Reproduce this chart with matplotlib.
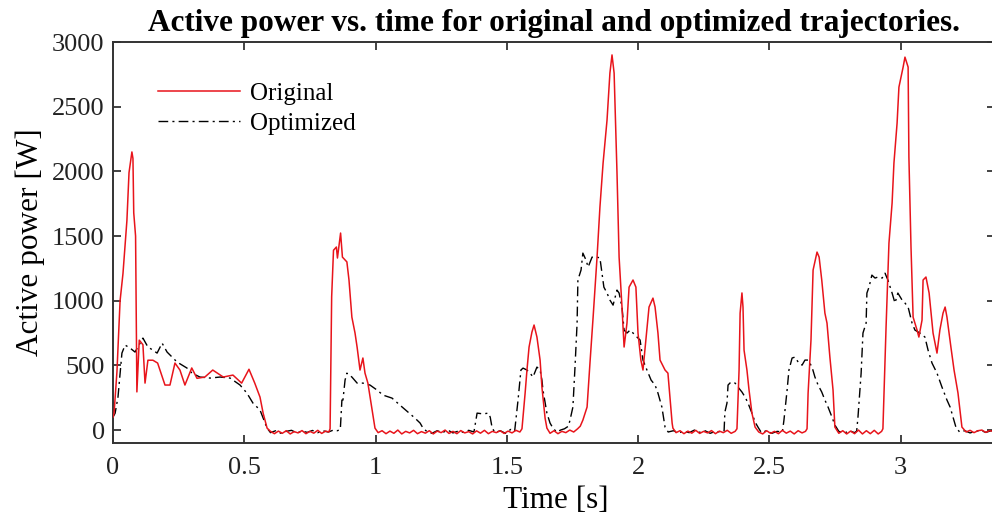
import numpy as np
import matplotlib
matplotlib.use("Agg")
import matplotlib.pyplot as plt

# ---------------- data ----------------
# Original trajectory: peaks
orig_peak_t = [0.000, 0.004, 0.015, 0.027, 0.038, 0.053, 0.061, 0.072, 0.076, 0.079, 0.086, 0.091, 0.100, 0.114,
               0.122, 0.133, 0.152, 0.170, 0.198, 0.217, 0.236, 0.255, 0.274, 0.300, 0.320, 0.350, 0.380,
               0.420, 0.457, 0.490, 0.518, 0.540, 0.560, 0.572, 0.587,
               0.827, 0.833, 0.840, 0.851, 0.855, 0.867, 0.874, 0.891, 0.899, 0.910, 0.922, 0.930, 0.941,
               0.952, 0.960, 0.971, 0.987, 0.998,
               1.558, 1.570, 1.577, 1.585, 1.596, 1.604, 1.615, 1.627, 1.634, 1.646, 1.653,
               1.790, 1.806, 1.817, 1.829, 1.844, 1.855, 1.867, 1.882, 1.893, 1.901, 1.909, 1.920, 1.928,
               1.939, 1.947, 1.958, 1.966, 1.981, 1.992, 2.000, 2.011, 2.019, 2.030, 2.042, 2.057, 2.065,
               2.076, 2.084, 2.103, 2.114, 2.130, 2.133,
               2.377, 2.385, 2.389, 2.396, 2.400, 2.404, 2.415, 2.423, 2.434, 2.446,
               2.644, 2.648, 2.659, 2.667, 2.682, 2.690, 2.700, 2.712, 2.720, 2.731, 2.743, 2.750,
               2.933, 2.945, 2.956, 2.968, 2.975, 2.987, 2.994, 3.010, 3.017, 3.029, 3.032, 3.040, 3.048,
               3.063, 3.070, 3.082, 3.086, 3.097, 3.109, 3.124, 3.139, 3.150, 3.162, 3.170, 3.177, 3.192,
               3.204, 3.219, 3.234]
orig_peak_p = [100, 130, 450, 1000, 1210, 1620, 1990, 2150, 2100, 1680, 1500, 295, 695, 660,
               363, 540, 540, 518, 348, 348, 518, 464, 348, 480, 400, 410, 464,
               410, 425, 363, 470, 363, 255, 130, 15,
               10, 1030, 1390, 1415, 1330, 1523, 1337, 1300, 1160, 873, 750, 640, 464,
               557, 440, 363, 155, 15,
               10, 286, 464, 642, 758, 812, 719, 541, 332, 93, 15,
               77, 178, 518, 873, 1337, 1724, 2064, 2396, 2760, 2900, 2760, 1987, 1337,
               951, 642, 827, 1105, 1160, 1105, 750, 541, 464, 696, 951, 1020, 951,
               750, 541, 464, 440, 54, 15,
               10, 464, 904, 1060, 951, 618, 464, 309, 131, 23,
               10, 286, 696, 1237, 1376, 1337, 1160, 904, 827, 564, 309, 23,
               10, 796, 1445, 1755, 2064, 2373, 2651, 2806, 2883, 2806, 2110, 1415, 873,
               773, 719, 850, 1160, 1183, 1059, 750, 595, 773, 904, 951, 873, 642,
               464, 286, 23]
# Original trajectory: idle (near zero) samples
orig_idle_t = [0.600, 0.615, 0.630, 0.645, 0.660, 0.675, 0.690, 0.705, 0.720, 0.735, 0.750, 0.765, 0.780, 0.795, 0.810, 0.822,
               1.010, 1.025, 1.040, 1.055, 1.070, 1.085, 1.100, 1.115, 1.130, 1.145, 1.160, 1.175, 1.190, 1.205,
               1.220, 1.235, 1.250, 1.265, 1.280, 1.295, 1.310, 1.325, 1.340, 1.355, 1.370, 1.385, 1.400, 1.415,
               1.430, 1.445, 1.460, 1.475, 1.490, 1.505, 1.520, 1.535, 1.550,
               1.665, 1.680, 1.695, 1.710, 1.725, 1.740, 1.755, 1.770, 1.780,
               2.145, 2.160, 2.175, 2.190, 2.205, 2.220, 2.235, 2.250, 2.265, 2.280, 2.295, 2.310, 2.325, 2.340, 2.355, 2.370,
               2.460, 2.475, 2.490, 2.505, 2.520, 2.535, 2.550, 2.565, 2.580, 2.595, 2.610, 2.625, 2.638,
               2.765, 2.780, 2.795, 2.810, 2.825, 2.840, 2.855, 2.870, 2.885, 2.900, 2.915, 2.928,
               3.250, 3.265, 3.280, 3.295, 3.310, 3.325, 3.340, 3.355]
orig_idle_p = [-10, -28, -8, -25, -5, -30, -12, -22, -4, -28, -10, -24, -2, -26, -8, -15,
               -20, -5, -28, -8, -25, 0, -30, -10, -22, -2, -28, -12, -24, -5,
               -30, -8, -20, 0, -26, -10, -28, -4, -22, -12, -30, -6, -24, -2,
               -28, -10, -20, -5, -26, -8, -22, -2, -15,
               -25, -5, -28, -10, -20, 0, -15, 10, 30,
               -20, -5, -28, -8, -24, -2, -26, -10, -22, -4, -28, -8, -20, -2, -25, -10,
               -15, -30, -5, -25, -10, -28, -2, -24, -8, -30, -5, -22, -10,
               -25, -5, -30, -8, -28, 0, -30, -5, -28, -2, -30, -10,
               -15, -2, -20, -5, 0, -18, -4, -12]

# Optimized trajectory: active phases
opt_peak_t = [0.000, 0.008, 0.019, 0.034, 0.046, 0.065, 0.084, 0.095, 0.114, 0.133, 0.152, 0.168, 0.187,
              0.206, 0.225, 0.244, 0.263, 0.282, 0.301, 0.331, 0.370, 0.408, 0.446, 0.484, 0.510, 0.533,
              0.560, 0.575, 0.587,
              0.872, 0.876, 0.884, 0.891, 0.910, 0.930, 0.952, 0.979, 1.006, 1.029, 1.063, 1.093, 1.124,
              1.150, 1.170, 1.181,
              1.387, 1.410, 1.430, 1.437, 1.444,
              1.543, 1.554, 1.562, 1.577, 1.589, 1.600, 1.615, 1.627, 1.634, 1.638, 1.653, 1.665, 1.676,
              1.741, 1.752, 1.760, 1.768, 1.771, 1.783, 1.790, 1.802, 1.810, 1.825, 1.844, 1.855, 1.863,
              1.870, 1.882, 1.893, 1.905, 1.920, 1.928, 1.939, 1.947, 1.958, 1.970, 1.981, 1.996, 2.008,
              2.019, 2.034, 2.050, 2.065, 2.076, 2.091, 2.103,
              2.331, 2.339, 2.343, 2.354, 2.370, 2.381, 2.396, 2.408, 2.419, 2.434, 2.446, 2.457,
              2.556, 2.568, 2.575, 2.587, 2.598, 2.610, 2.625, 2.636, 2.648, 2.663, 2.674, 2.686, 2.700,
              2.712, 2.724, 2.739, 2.750,
              2.838, 2.850, 2.857, 2.869, 2.872, 2.880, 2.891, 2.903, 2.914, 2.930, 2.941, 2.952, 2.968,
              2.979, 2.990, 3.006, 3.017, 3.029, 3.044, 3.055, 3.074, 3.093, 3.105, 3.120, 3.139, 3.158,
              3.177, 3.189, 3.200, 3.211]
opt_peak_p = [100, 130, 255, 595, 657, 634, 603, 642, 711, 642, 618, 595, 672,
              603, 564, 526, 502, 479, 440, 410, 402, 410, 402, 348, 286, 209,
              155, 77, 15,
              232, 232, 386, 440, 410, 363, 363, 348, 309, 270, 247, 193, 139,
              93, 54, 15,
              131, 125, 131, 100, 20,
              232, 464, 479, 464, 440, 410, 487, 464, 386, 309, 131, 54, 15,
              77, 178, 487, 827, 1160, 1237, 1368, 1314, 1260, 1337, 1337, 1330, 1213,
              1105, 1059, 1005, 966, 1082, 1059, 951, 773, 750, 773, 750, 719, 696,
              541, 464, 386, 348, 286, 178, 23,
              139, 209, 348, 371, 363, 332, 294, 255, 209, 131, 62, 23,
              77, 309, 464, 557, 564, 526, 502, 541, 541, 487, 410, 348, 294,
              232, 178, 100, 39,
              100, 440, 750, 827, 1059, 1105, 1198, 1175, 1183, 1175, 1213, 1160, 1059,
              982, 1059, 1005, 982, 951, 827, 773, 750, 719, 618, 518, 440, 332,
              232, 178, 100, 23]
# Optimized trajectory: idle samples
opt_idle_t = [0.600, 0.620, 0.640, 0.660, 0.680, 0.700, 0.720, 0.740, 0.760, 0.780, 0.800, 0.820, 0.840, 0.855, 0.866,
              1.195, 1.215, 1.235, 1.255, 1.275, 1.295, 1.315, 1.335, 1.355, 1.375,
              1.455, 1.475, 1.495, 1.515, 1.530,
              1.690, 1.705, 1.720, 1.735,
              2.115, 2.135, 2.155, 2.175, 2.195, 2.215, 2.235, 2.255, 2.275, 2.295, 2.315, 2.328,
              2.470, 2.490, 2.510, 2.530, 2.550,
              2.765, 2.785, 2.805, 2.825, 2.833,
              3.225, 3.245, 3.265, 3.285, 3.305, 3.325, 3.345, 3.360]
opt_idle_p = [-20, -5, -25, -10, -2, -22, -8, -18, -3, -20, -6, -15, 0, -5, 5,
              -10, -25, -5, -20, 0, -22, -8, -18, -2, -15,
              -20, -5, -25, 5, -10,
              -15, 0, 10, 30,
              -15, -5, -22, -8, -20, 0, -18, -5, -25, -10, -15, -5,
              -20, -5, -25, -10, -15,
              -10, -25, -5, -20, -8,
              -15, -5, -22, -10, -2, -18, -5, -12]

x_ticks = [0, 0.5, 1, 1.5, 2, 2.5, 3]
x_tick_labels = ["0", "0.5", "1", "1.5", "2", "2.5", "3"]
y_ticks = [0, 500, 1000, 1500, 2000, 2500, 3000]

# ---------------- assemble series ----------------
def merge(t1, p1, t2, p2):
    t = np.array(t1 + t2, dtype=float)
    p = np.array(p1 + p2, dtype=float)
    order = np.argsort(t, kind="stable")
    return t[order], p[order]

t_orig, p_orig = merge(orig_peak_t, orig_peak_p, orig_idle_t, orig_idle_p)
t_opt, p_opt = merge(opt_peak_t, opt_peak_p, opt_idle_t, opt_idle_p)

# ---------------- figure ----------------
plt.rcParams['font.family'] = ['Liberation Serif', 'DejaVu Serif']

fig = plt.figure(figsize=(9.92, 5.18), dpi=100)
ax = fig.add_axes([113 / 992, 75 / 518, 882 / 992, 401 / 518])

ax.plot(t_orig, p_orig, color='#e8141b', lw=1.1, label='Original', zorder=3)
ax.plot(t_opt, p_opt, color='black', lw=1.0, linestyle=(0, (7, 3, 1.5, 3)),
        label='Optimized', zorder=2)

ax.set_xlim(0, 3.36)
ax.set_ylim(-100, 3000)
ax.set_xticks(x_ticks)
ax.set_xticklabels(x_tick_labels)
ax.set_yticks(y_ticks)
ax.tick_params(direction='in', length=6, width=1.2, top=True, right=True,
               labelsize=19, colors='#222222')
ax.tick_params(axis='x', pad=10)
ax.tick_params(axis='y', pad=6)
for s in ax.spines.values():
    s.set_linewidth(1.4)
    s.set_color('#333333')

ax.set_xlabel('Time [s]', fontsize=22.5)
ax.set_ylabel('Active power [W]', fontsize=22.5)
ax.xaxis.set_label_coords(0.5017, -0.107)
ax.yaxis.set_label_coords(-0.077, 0.5)
ax.set_title('Active power vs. time for original and optimized trajectories.',
             fontsize=22.5, fontweight='bold', pad=8)

leg = ax.legend(loc='upper left', bbox_to_anchor=(0.051, 0.9), frameon=False,
                fontsize=18, handlelength=3.3, handletextpad=0.4, labelspacing=0.31,
                borderpad=0, borderaxespad=0)

fig.savefig('out.png', dpi=100)
